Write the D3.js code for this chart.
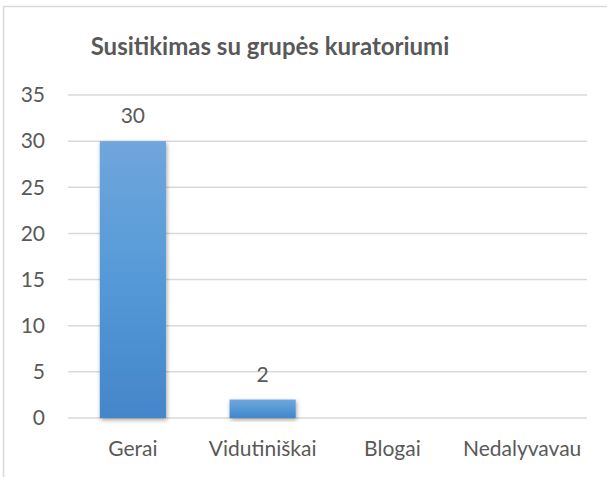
<!DOCTYPE html>
<html lang="lt">
<head>
	<meta charset="utf-8">
	<title>Susitikimas su grupės kuratoriumi</title>
	<script src="https://d3js.org/d3.v7.min.js"></script>
	<style>
		body { margin: 0; background: #fff; }
		text { font-family: Lato, "Open Sans", sans-serif; fill: #595959; }
	</style>
</head>
<body>
	<div id="chart"></div>
	<script>
		// chart data
		var categories = ["Gerai", "Vidutiniškai", "Blogai", "Nedalyvavau"];
		var values = [30, 2, null, null];
		var yTicks = [0, 5, 10, 15, 20, 25, 30, 35];
		var titleText = "Susitikimas su grupės kuratoriumi";

		var width = 607;
		var height = 477;

		var svg = d3.select("#chart").append("svg")
					.attr("width", width)
					.attr("height", height);

		var defs = svg.append("defs");
		var grad = defs.append("linearGradient")
					.attr("id", "barGrad")
					.attr("x1", "0%").attr("y1", "0%")
					.attr("x2", "0%").attr("y2", "100%");
		grad.append("stop").attr("offset", "0%").attr("stop-color", "#70a6dc");
		grad.append("stop").attr("offset", "50%").attr("stop-color", "#5599d8");
		grad.append("stop").attr("offset", "100%").attr("stop-color", "#4486c9");
		defs.append("filter")
			.attr("id", "shadow")
			.attr("x", "-20%").attr("y", "-20%")
			.attr("width", "140%").attr("height", "140%")
			.append("feDropShadow")
			.attr("dx", 1).attr("dy", 2)
			.attr("stdDeviation", 2)
			.attr("flood-color", "#000")
			.attr("flood-opacity", 0.35);

		// chart frame (cut off on the right in the original)
		svg.append("path")
			.attr("d", "M3.5,477 V6.5 H607")
			.attr("fill", "none")
			.attr("stroke", "#d9d9d9")
			.attr("stroke-width", 1.5);

		// title
		svg.append("text")
			.attr("x", 270)
			.attr("y", 55)
			.attr("text-anchor", "middle")
			.style("font-size", "24px")
			.style("font-weight", "bold")
			.text(titleText);

		var x = d3.scaleBand()
					.domain(categories)
					.range([68, 587]);
		var y = d3.scaleLinear()
					.domain([0, 35])
					.range([418, 95]);

		// gridlines
		svg.append("g")
			.selectAll("line")
			.data(yTicks)
			.enter().append("line")
			.attr("x1", 68)
			.attr("x2", 587)
			.attr("y1", function(d) { return y(d); })
			.attr("y2", function(d) { return y(d); })
			.attr("stroke", "#d9d9d9")
			.attr("stroke-width", 1.5);

		// y axis labels
		var yAxis = svg.append("g")
					.attr("transform", "translate(45,0)")
					.call(d3.axisLeft(y).tickValues(yTicks).tickSize(0).tickPadding(0));
		yAxis.select(".domain").remove();
		yAxis.selectAll("text")
			.style("font-size", "21px")
			.style("font-family", null)
			.attr("fill", "#595959");

		// x axis labels
		var xAxis = svg.append("g")
					.attr("transform", "translate(0,418)")
					.call(d3.axisBottom(x).tickSize(0).tickPadding(0).tickSizeOuter(0));
		xAxis.select(".domain").remove();
		xAxis.selectAll("text")
			.attr("dy", null)
			.attr("y", 38)
			.style("font-size", "21px")
			.style("font-family", null)
			.attr("fill", "#595959");

		// bars take about half of each category band
		var barW = x.bandwidth() * 0.51;

		var data = categories.map(function(c, i) { return { cat: c, val: values[i] }; })
					.filter(function(d) { return d.val != null; });

		svg.append("g")
			.selectAll("rect")
			.data(data)
			.enter().append("rect")
			.attr("x", function(d) { return x(d.cat) + x.bandwidth() / 2 - barW / 2; })
			.attr("y", function(d) { return y(d.val); })
			.attr("width", barW)
			.attr("height", function(d) { return y(0) - y(d.val); })
			.attr("fill", "url(#barGrad)")
			.attr("filter", "url(#shadow)");

		svg.append("g")
			.selectAll("text")
			.data(data)
			.enter().append("text")
			.attr("x", function(d) { return x(d.cat) + x.bandwidth() / 2; })
			.attr("y", function(d) { return y(d.val) - 18; })
			.attr("text-anchor", "middle")
			.style("font-size", "21px")
			.attr("fill", "#404040")
			.text(function(d) { return d.val; });
	</script>
</body>
</html>
